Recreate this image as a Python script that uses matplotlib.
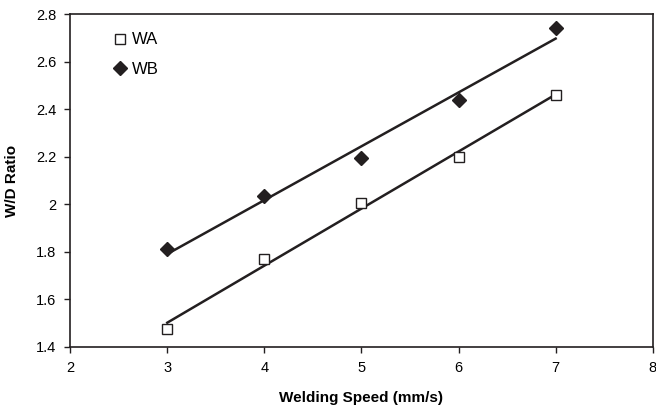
import numpy as np
import matplotlib
matplotlib.use("Agg")
import matplotlib.pyplot as plt
from matplotlib.ticker import FuncFormatter

plt.rcParams['font.family'] = ['Liberation Sans', 'DejaVu Sans']

# data
speed = [3, 4, 5, 6, 7]
wa = [1.475, 1.77, 2.005, 2.20, 2.46]
wb = [1.81, 2.035, 2.195, 2.44, 2.74]

ink = '#231f20'

fig = plt.figure(figsize=(6.56, 4.15), dpi=100)
ax = fig.add_axes([0.107, 0.164, 0.888, 0.802])

# linear trendlines (as in the original)
for ys in (wa, wb):
    k, b = np.polyfit(speed, ys, 1)
    xs = np.array([speed[0], speed[-1]])
    ax.plot(xs, k * xs + b, color=ink, lw=1.8, zorder=2)

ax.plot(speed, wa, ls='none', marker='s', ms=7.5, mfc='white', mec=ink, mew=1.0,
        label='WA', zorder=3)
ax.plot(speed, wb, ls='none', marker='D', ms=7, mfc=ink, mec=ink,
        label='WB', zorder=3)

ax.set_xlim(2, 8)
ax.set_ylim(1.4, 2.8)
ax.set_xticks(range(2, 9))
ax.set_yticks(np.arange(1.4, 2.81, 0.2))
ax.yaxis.set_major_formatter(FuncFormatter(lambda v, p: f'{v:.1f}'.rstrip('0').rstrip('.')))
ax.tick_params(direction='out', length=4, width=1, color=ink, labelsize=10.5, labelcolor='black', pad=6)
for s in ax.spines.values():
    s.set_color(ink)
    s.set_linewidth(1.2)

ax.set_xlabel('Welding Speed (mm/s)', fontsize=11, fontweight='bold', labelpad=12)
ax.set_ylabel('W/D Ratio', fontsize=11, fontweight='bold', labelpad=12)

ax.legend(loc='upper left', bbox_to_anchor=(0.063, 0.965), frameon=False, fontsize=12,
          handlelength=0.8, handletextpad=0.3, labelspacing=0.85, borderaxespad=0)

fig.savefig('out.png', dpi=100)
